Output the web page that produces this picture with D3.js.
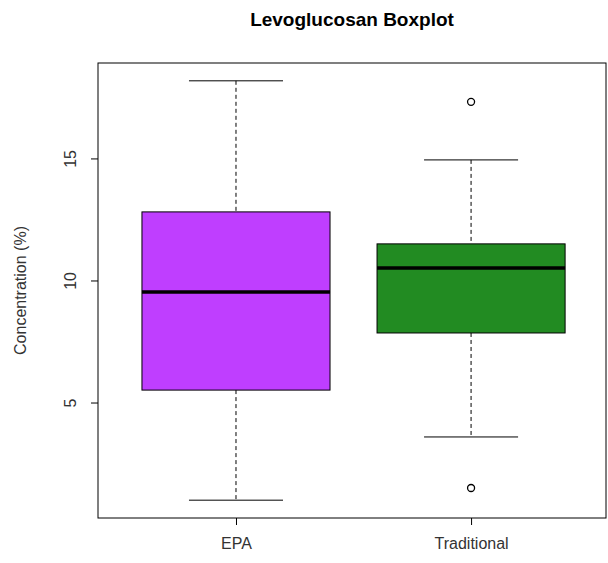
<!DOCTYPE html>
<html><head><meta charset="utf-8">
<script src="https://cdn.jsdelivr.net/npm/d3@7"></script>
<style>body{margin:0;background:#fff}text{font-family:"Liberation Sans",Arial,sans-serif}</style>
</head><body><svg id="viz" width="608" height="563"></svg>
<script>
const groups = ["EPA", "Traditional"];
const colors = ["#BF3EFF", "#228B22"];
const lowWhisker = [1.02, 3.61];
const q1 = [5.53, 7.87];
const median = [9.55, 10.53];
const q3 = [12.83, 11.52];
const highWhisker = [18.2, 14.96];
const outliers = [[], [17.34, 1.52]];
const yTicks = [5, 10, 15];

const L = 98, R = 606, T = 63, B = 518;
const svg = d3.select("#viz");
const x = d3.scaleLinear().domain([0.413, 2.574]).range([L, R]);
const y = d3.scaleLinear().domain([0.29, 18.93]).range([B, T]);
const bw = x(1.8) - x(1);
const cap = bw / 2;

groups.forEach((gname, i) => {
  const cx = x(i + 1);
  const g = svg.append("g");
  g.append("line").attr("x1", cx).attr("x2", cx).attr("y1", y(highWhisker[i])).attr("y2", y(q3[i]))
    .attr("stroke", "#000").attr("stroke-dasharray", "4,3");
  g.append("line").attr("x1", cx).attr("x2", cx).attr("y1", y(q1[i])).attr("y2", y(lowWhisker[i]))
    .attr("stroke", "#000").attr("stroke-dasharray", "4,3");
  [highWhisker[i], lowWhisker[i]].forEach(v =>
    g.append("line").attr("x1", cx - cap / 2).attr("x2", cx + cap / 2).attr("y1", y(v)).attr("y2", y(v)).attr("stroke", "#000"));
  g.append("rect").attr("x", cx - bw / 2).attr("width", bw).attr("y", y(q3[i])).attr("height", y(q1[i]) - y(q3[i]))
    .attr("fill", colors[i]).attr("stroke", "#000");
  g.append("line").attr("x1", cx - bw / 2).attr("x2", cx + bw / 2).attr("y1", y(median[i])).attr("y2", y(median[i]))
    .attr("stroke", "#000").attr("stroke-width", 3.5);
  outliers[i].forEach(v => g.append("circle").attr("cx", cx).attr("cy", y(v)).attr("r", 3.5)
    .attr("fill", "none").attr("stroke", "#000").attr("stroke-width", 1.3));
});

svg.append("rect").attr("x", L).attr("y", T).attr("width", R - L).attr("height", B - T)
  .attr("fill", "none").attr("stroke", "#000");

// y axis, R style with rotated labels
const ya = svg.append("g").attr("transform", `translate(${L},0)`);
yTicks.forEach(v => {
  ya.append("line").attr("x1", -7).attr("x2", 0).attr("y1", y(v)).attr("y2", y(v)).attr("stroke", "#000");
  ya.append("text").attr("transform", `translate(-22,${y(v)}) rotate(-90)`).attr("text-anchor", "middle")
    .attr("font-size", 16).attr("fill", "#333").text(v);
});

const xa = svg.append("g").attr("transform", `translate(0,${B})`)
  .call(d3.axisBottom(x).tickValues([1, 2]).tickFormat(d => groups[d - 1]).tickSize(7).tickPadding(13));
xa.select(".domain").remove();
xa.selectAll("text").attr("font-size", 16).attr("fill", "#333");

svg.append("text").attr("x", 352).attr("y", 26).attr("text-anchor", "middle")
  .attr("font-size", 19).attr("font-weight", "bold").text("Levoglucosan Boxplot");
svg.append("text").attr("transform", `translate(26,${(T + B) / 2}) rotate(-90)`).attr("text-anchor", "middle")
  .attr("font-size", 16).attr("fill", "#333").text("Concentration (%)");
</script></body></html>
